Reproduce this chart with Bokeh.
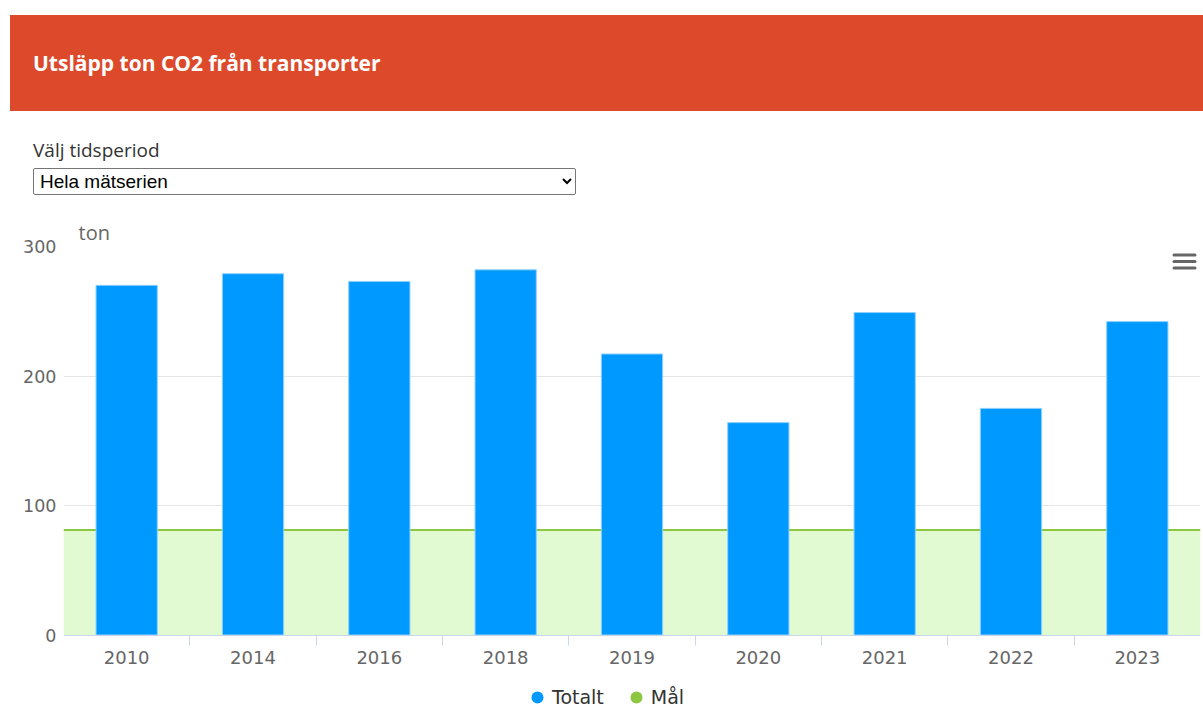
from bokeh.plotting import figure
from bokeh.models import (Range1d, FixedTicker, BoxAnnotation, Span, Legend, LegendItem,
                          Div, ColumnDataSource)
from bokeh.embed import file_html
from bokeh.resources import INLINE

# ---------------- data ----------------
years = ["2010", "2014", "2016", "2018", "2019", "2020", "2021", "2022", "2023"]
totalt = [270, 279, 273, 282, 217, 164, 249, 175, 242]
mal = 81
y_ticks = [0, 100, 200, 300]
title_text = "Utsläpp ton CO2 från transporter"
select_label = "Välj tidsperiod"
select_option = "Hela mätserien"
unit_label = "ton"
series_names = ["Totalt", "Mål"]

# ---------------- colours ----------------
BAR = "#0099ff"
BAR_EDGE = "#8fd0ff"
GOAL_LINE = "#8dc63f"
GOAL_FILL = "#e1fad2"
HEADER = "#dd4a2b"

W = 1203
HEAD_H = 208
FIG_H = 511
TOP_B = 38
PLOT_PX = 388.5            # pixels between value 0 and the top tick
FRAME_H = FIG_H - TOP_B    # frame runs to the bottom of the figure (room for axis + legend)

# ---------------- header (HTML) ----------------
header_html = f"""
<div style="position:relative;width:{W}px;height:{HEAD_H}px;font-family:'Open Sans',sans-serif;overflow:hidden;">
  <div style="position:absolute;left:10px;top:15px;width:1193px;height:96px;background:{HEADER};
              display:flex;align-items:center;">
    <span style="margin-left:23px;color:#ffffff;font-weight:700;font-size:21px;white-space:nowrap;">{title_text}</span>
  </div>
  <div style="position:absolute;left:33px;top:137px;color:#333333;font-size:19px;white-space:nowrap;">{select_label}</div>
  <select style="position:absolute;left:33px;top:168px;width:543px;height:27px;font-family:Arial,'Liberation Sans',sans-serif;
                 font-size:19px;color:#000;border:1px solid #767676;border-radius:2px;background:#ffffff;padding:0 2px;">
    <option>{select_option}</option>
  </select>
</div>
"""
header = Div(text=header_html, width=W, height=HEAD_H, margin=0, sizing_mode="fixed")

# ---------------- chart ----------------
n = len(years)
x_idx = list(range(n))
y_top = y_ticks[-1]
y_start = -(FRAME_H - PLOT_PX) * (y_top - y_ticks[0]) / PLOT_PX

p = figure(width=W, height=FIG_H, output_backend="svg", toolbar_location=None,
           x_range=Range1d(-0.5, n - 0.5), y_range=Range1d(y_start, y_top),
           min_border_left=63, min_border_right=3, min_border_top=TOP_B, min_border_bottom=0,
           margin=0, sizing_mode="fixed")
p.outline_line_color = None
p.background_fill_color = "#ffffff"
p.border_fill_color = "#ffffff"

# title "ton"
p.title.text = unit_label
p.title.text_font = "Open Sans"
p.title.text_font_size = "20px"
p.title.text_font_style = "normal"
p.title.text_color = "#666666"
p.title.align = "left"
p.title.offset = 15
p.title.standoff = 1

# grids
p.xgrid.grid_line_color = None
p.ygrid.ticker = FixedTicker(ticks=y_ticks)
p.ygrid.grid_line_color = "#e6e6e6"
p.ygrid.grid_line_width = 1

# y axis
p.yaxis.ticker = FixedTicker(ticks=y_ticks)
p.yaxis.axis_line_color = None
p.yaxis.major_tick_line_color = None
p.yaxis.minor_tick_line_color = None
p.yaxis.major_label_standoff = 1
p.yaxis.major_label_text_font = "DejaVu Sans"
p.yaxis.major_label_text_font_size = "17.5px"
p.yaxis.major_label_text_color = "#666666"

# x axis, pinned at value 0
p.xaxis.fixed_location = y_ticks[0]
p.xaxis.ticker = FixedTicker(ticks=x_idx, minor_ticks=[i + 0.5 for i in x_idx[:-1]])
p.xaxis.major_label_overrides = {i: y for i, y in enumerate(years)}
p.xaxis.axis_line_color = "#ccd6eb"
p.xaxis.axis_line_width = 1
p.xaxis.major_tick_line_color = None
p.xaxis.major_tick_out = 0
p.xaxis.major_tick_in = 0
p.xaxis.minor_tick_line_color = "#ccd6eb"
p.xaxis.minor_tick_out = 10
p.xaxis.minor_tick_in = 0
p.xaxis.major_label_standoff = 6
p.xaxis.major_label_text_font = "DejaVu Sans"
p.xaxis.major_label_text_font_size = "18px"
p.xaxis.major_label_text_color = "#666666"

# goal area + line (under the bars)
goal_area = BoxAnnotation(bottom=y_ticks[0], top=mal, fill_color=GOAL_FILL, fill_alpha=1.0,
                          line_color=None, level="underlay")
p.add_layout(goal_area)
goal_line = Span(location=mal, dimension="width", line_color=GOAL_LINE, line_width=2, level="underlay")
p.add_layout(goal_line)

# bars
src = ColumnDataSource(dict(x=x_idx, top=totalt, year=years))
bars = p.vbar(x="x", top="top", bottom=y_ticks[0], width=0.485, source=src,
              fill_color=BAR, line_color=BAR_EDGE, line_width=1)

# legend proxies (circles, like the reference); NaN so nothing is drawn in the plot
nan = float("nan")
leg_tot = p.scatter(x=[nan], y=[nan], size=12, marker="circle", fill_color=BAR, line_color=None)
leg_mal = p.scatter(x=[nan], y=[nan], size=12, marker="circle", fill_color=GOAL_LINE, line_color=None)

legend = Legend(items=[LegendItem(label=series_names[0], renderers=[leg_tot]),
                       LegendItem(label=series_names[1], renderers=[leg_mal])],
                orientation="horizontal", location=(459, 7),
                glyph_width=30, glyph_height=30, label_standoff=0, spacing=17,
                padding=0, margin=0,
                label_text_font="DejaVu Sans", label_text_font_size="19px",
                label_text_color="#333333",
                border_line_color=None, background_fill_alpha=0)
p.add_layout(legend)

# hamburger (export menu) icon, top-right of the plot area
px_x = (p.x_range.end - p.x_range.start) / 1137.0
px_y = (p.y_range.end - p.y_range.start) / FRAME_H
for k in range(3):
    top_px = 7 + k * 6.5
    p.add_layout(BoxAnnotation(left=p.x_range.end - 28 * px_x, right=p.x_range.end - 4 * px_x,
                               top=p.y_range.end - top_px * px_y,
                               bottom=p.y_range.end - (top_px + 3) * px_y,
                               fill_color="#666666", fill_alpha=1.0, line_color=None,
                               border_radius=2, level="overlay"))

open("out.html", "w").write(file_html([header, p], INLINE))
